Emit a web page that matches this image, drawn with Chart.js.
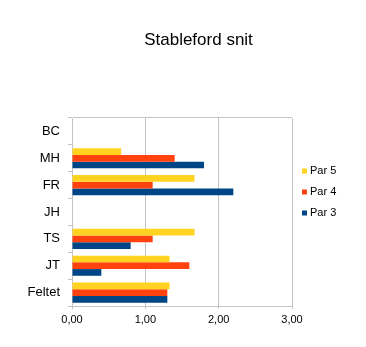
<!DOCTYPE html>
<html>
<head>
<meta charset="utf-8">
<script src="https://cdn.jsdelivr.net/npm/chart.js@4.4.1/dist/chart.umd.min.js"></script>
<style>
  html, body { margin: 0; padding: 0; background: #ffffff; }
  #wrap { width: 366px; height: 347px; }
</style>
</head>
<body>
<div id="wrap"><canvas id="c" width="366" height="347"></canvas></div>
<script>
const chartTitle = 'Stableford snit';
const categories = ['BC', 'MH', 'FR', 'JH', 'TS', 'JT', 'Feltet'];
const seriesNames = ['Par 5', 'Par 4', 'Par 3'];
const par5 = [null, 0.67, 1.67, null, 1.67, 1.33, 1.33];
const par4 = [null, 1.40, 1.10, null, 1.10, 1.60, 1.30];
const par3 = [null, 1.80, 2.20, null, 0.80, 0.40, 1.30];
const xTickLabels = ['0,00', '1,00', '2,00', '3,00'];
const seriesColors = ['#ffd320', '#ff420e', '#004586'];

const FONT = '"Liberation Sans", Arial, sans-serif';
const GRID = '#c4c4c4';

const titleAndLegend = {
  id: 'titleAndLegend',
  afterDraw(chart) {
    const ctx = chart.ctx;
    ctx.save();
    ctx.fillStyle = '#000000';
    ctx.font = '17px ' + FONT;
    ctx.textAlign = 'center';
    ctx.textBaseline = 'middle';
    ctx.fillText(chartTitle, 198.5, 40);

    ctx.font = '11px ' + FONT;
    ctx.textAlign = 'left';
    chart.data.datasets.forEach((ds, i) => {
      const y = 171 + i * 21;
      ctx.fillStyle = ds.backgroundColor;
      ctx.fillRect(302, y - 2.5, 5, 5);
      ctx.fillStyle = '#000000';
      ctx.fillText(ds.label, 310, y);
    });
    ctx.restore();
  }
};

new Chart(document.getElementById('c'), {
  type: 'bar',
  data: {
    labels: categories,
    datasets: [
      { label: seriesNames[0], data: par5, backgroundColor: seriesColors[0] },
      { label: seriesNames[1], data: par4, backgroundColor: seriesColors[1] },
      { label: seriesNames[2], data: par3, backgroundColor: seriesColors[2] }
    ]
  },
  options: {
    indexAxis: 'y',
    responsive: false,
    animation: false,
    devicePixelRatio: 1,
    layout: { padding: { left: 0, right: 74, top: 118, bottom: 21 } },
    datasets: { bar: { categoryPercentage: 0.75, barPercentage: 1.0 } },
    plugins: {
      legend: { display: false },
      title: { display: false },
      tooltip: { enabled: false }
    },
    scales: {
      x: {
        min: 0, max: 3,
        afterFit(scale) { scale.height = 20; },
        ticks: {
          stepSize: 1,
          padding: 4,
          color: '#000000',
          font: { family: FONT, size: 11 },
          callback: (v, i) => xTickLabels[i]
        },
        grid: { color: GRID, tickColor: GRID, tickLength: 3, lineWidth: 1 },
        border: { display: true, color: GRID }
      },
      y: {
        afterFit(scale) { scale.width = 72; },
        ticks: {
          padding: 8,
          color: '#000000',
          font: { family: FONT, size: 13 }
        },
        grid: {
          offset: true,
          tickLength: 4,
          color: (c) => (c.index === 0 ? GRID : 'rgba(0,0,0,0)'),
          tickColor: GRID,
          lineWidth: 1
        },
        border: { display: true, color: GRID }
      }
    }
  },
  plugins: [titleAndLegend]
});
</script>
</body>
</html>
